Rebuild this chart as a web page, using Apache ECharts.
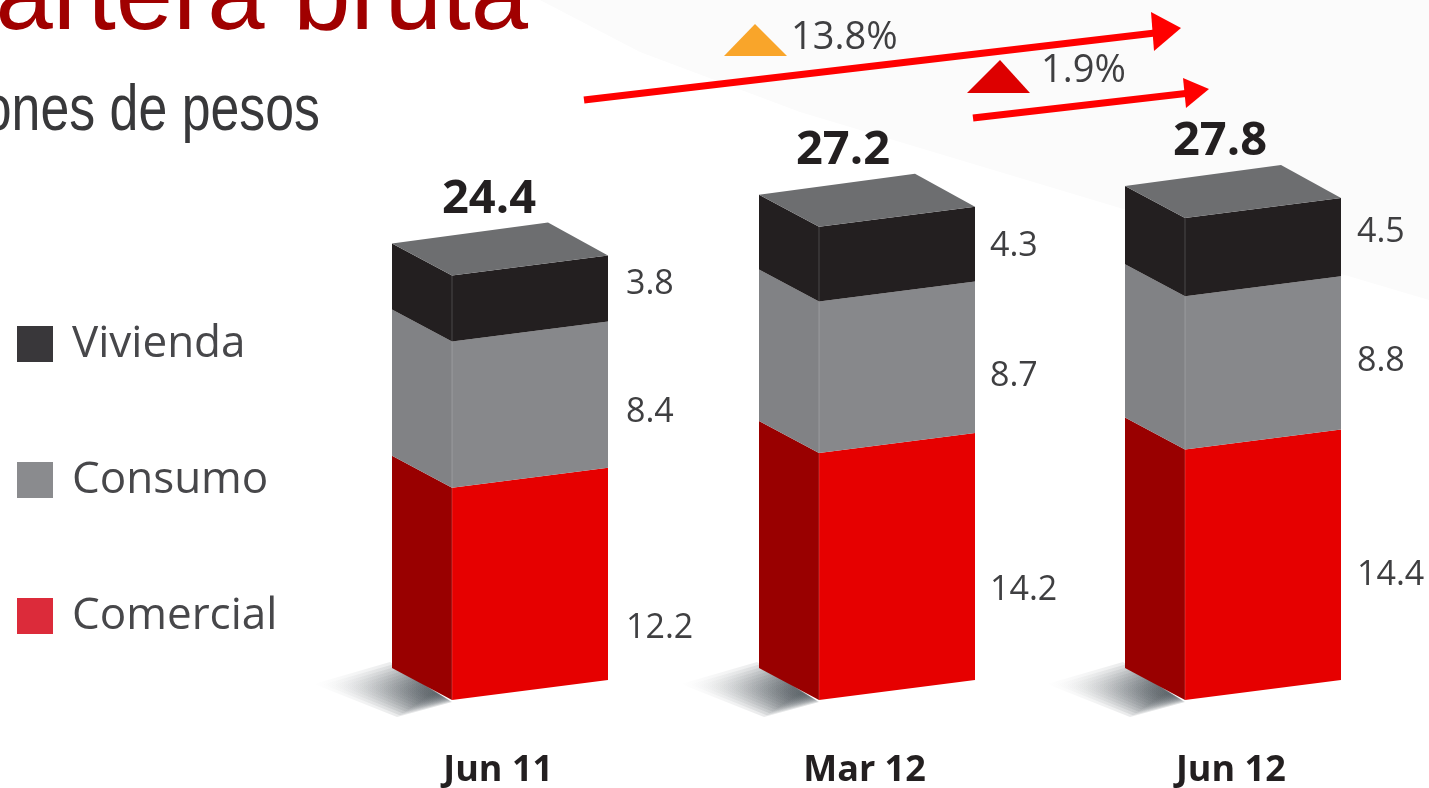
<!DOCTYPE html>
<html>
<head>
<meta charset="utf-8">
<title>Cartera bruta</title>
<style>
  html, body { margin: 0; padding: 0; background: #fff; overflow: hidden; }
  #main { width: 1429px; height: 788px; }
</style>
</head>
<body>
<div id="main"></div>
<script src="https://cdn.jsdelivr.net/npm/echarts@6/dist/echarts.min.js"></script>
<script>
var categories = ['Jun 11', 'Mar 12', 'Jun 12'];
var comercial = [12.2, 14.2, 14.4];
var consumo = [8.4, 8.7, 8.8];
var vivienda = [3.8, 4.3, 4.5];
var totals = [24.4, 27.2, 27.8];

// label nudges (px), the labels in the picture are placed by hand
var viviendaNudge = [-4, 2, -5];
var consumoNudge = [18, 19, 8];
var comercialNudge = [54, 34, 21];
var labelDx = [174, 171, 172];
var totalNudge = [37, 24, 35];

var textFont = '"Open Sans", sans-serif';

// box shape, relative to the front corner of the bar
var frontOffset = -46;
var sideW = 60, sideDy = 32;
var frontW = 156, frontDy = 20;

function segmentRows(base, values) {
  return values.map(function (v, i) {
    return [i, base[i], base[i] + v, v];
  });
}
var base1 = [0, 0, 0];
var base2 = comercial.slice();
var base3 = comercial.map(function (v, i) { return v + consumo[i]; });

// soft ground shadow: nested see-through polygons around the bar's corner
function shadowLayers(x, y0) {
  var outer = [[-62, -38], [0, 2], [-55, 17], [-138, -16]];
  var layers = [];
  for (var k = 0; k < 12; k++) {
    var s = 1 - k * 0.075;
    layers.push({
      type: 'polygon',
      shape: {
        points: outer.map(function (p) {
          return [x - 18 + (p[0] + 18) * s, y0 - 8 + (p[1] + 8) * s];
        })
      },
      style: {
        fill: new echarts.graphic.LinearGradient(1, 0, 0, 0, [
          { offset: 0, color: 'rgba(80,88,94,0.2)' },
          { offset: 1, color: 'rgba(80,88,94,0)' }
        ])
      }
    });
  }
  return layers;
}

// draws one segment of a bar: side face, front face, value label
function makeRenderItem(frontColor, sideColor, nudge, isTop, isBottom) {
  return function (params, api) {
    var i = api.value(0);
    var cx = api.coord([i, 0])[0];
    var x = Math.round(cx + frontOffset);
    var y0 = api.coord([i, api.value(1)])[1];
    var y1 = api.coord([i, api.value(2)])[1];
    var children = isBottom ? shadowLayers(x, y0) : [];

    children.push({
      type: 'polygon',
      shape: { points: [[x - sideW, y0 - sideDy], [x, y0], [x, y1], [x - sideW, y1 - sideDy]] },
      style: { fill: sideColor }
    });
    children.push({
      type: 'polygon',
      shape: { points: [[x, y0], [x + frontW, y0 - frontDy], [x + frontW, y1 - frontDy], [x, y1]] },
      style: { fill: frontColor }
    });
    // thin seam between the two faces
    children.push({
      type: 'line',
      shape: { x1: x, y1: y0, x2: x, y2: y1 },
      style: { stroke: 'rgba(255,255,255,0.18)', lineWidth: 1 }
    });
    // value label
    children.push({
      type: 'text',
      style: {
        text: api.value(3).toFixed(1),
        x: x + labelDx[i],
        y: (y0 + y1) / 2 - frontDy + nudge[i],
        fill: '#3f3f41',
        font: '34px ' + textFont,
        textAlign: 'left',
        textVerticalAlign: 'middle'
      }
    });
    if (isTop) {
      children.push({
        type: 'polygon',
        shape: { points: [[x, y1], [x + frontW, y1 - frontDy], [x + 96, y1 - 53], [x - sideW, y1 - sideDy]] },
        style: { fill: '#6d6e70' }
      });
      children.push({
        type: 'text',
        style: {
          text: totals[i].toFixed(1),
          x: x + totalNudge[i],
          y: y1 - 76,
          fill: '#231f20',
          font: 'bold 47px ' + textFont,
          textAlign: 'center',
          textVerticalAlign: 'middle'
        }
      });
    }
    return { type: 'group', children: children };
  };
}

var chart = echarts.init(document.getElementById('main'));

var option = {
  animation: false,
  backgroundColor: '#ffffff',
  grid: { left: 315, width: 1099, top: 4, height: 696, outerBoundsMode: 'none' },
  xAxis: {
    type: 'category',
    data: categories,
    axisLine: { show: false },
    axisTick: { show: false },
    axisLabel: {
      margin: 53,
      color: '#231f20',
      fontFamily: textFont,
      fontWeight: 'bold',
      fontSize: 36
    }
  },
  yAxis: { type: 'value', min: 0, max: 40, show: false },
  legend: {
    orient: 'vertical',
    left: 12,
    top: 317,
    itemWidth: 36,
    itemHeight: 36,
    itemGap: 92,
    icon: 'rect',
    textStyle: { color: '#47474a', fontSize: 44, fontFamily: textFont, padding: [0, 0, 0, 14] },
    data: [
      { name: 'Vivienda', itemStyle: { color: '#39373a' } },
      { name: 'Consumo', itemStyle: { color: '#8a8b8e' } },
      { name: 'Comercial', itemStyle: { color: '#dc2b3a' } }
    ]
  },
  // fondo, titulo, flechas
  graphic: [
    {
      type: 'polygon', z: -1, silent: true,
      shape: { points: [[540, 0], [640, 52], [800, 112], [1000, 172], [1200, 232], [1429, 300], [1429, 0]] },
      style: { fill: '#fbfbfb' }
    },
    {
      type: 'text', x: 528, y: 1,
      style: { text: 'Cartera bruta', fill: '#a00000', font: '103px "Liberation Sans", Arial, sans-serif', textAlign: 'right', textVerticalAlign: 'middle' }
    },
    {
      type: 'text', x: 320, y: 112, scaleX: 0.81,
      style: { text: 'Millones de pesos', fill: '#38383a', font: '64px "Liberation Sans", sans-serif', textAlign: 'right', textVerticalAlign: 'middle' }
    },
    {
      type: 'line',
      shape: { x1: 584, y1: 100, x2: 1155, y2: 33 },
      style: { stroke: '#ff0000', lineWidth: 7 }
    },
    {
      type: 'polygon',
      shape: { points: [[1181, 28], [1151, 12], [1154, 51]] },
      style: { fill: '#ff0000' }
    },
    {
      type: 'line',
      shape: { x1: 973, y1: 118, x2: 1190, y2: 93 },
      style: { stroke: '#ff0000', lineWidth: 7 }
    },
    {
      type: 'polygon',
      shape: { points: [[1209, 89], [1183, 78], [1186, 108]] },
      style: { fill: '#ff0000' }
    },
    {
      type: 'polygon',
      shape: { points: [[724, 56], [755, 24], [787, 56]] },
      style: { fill: '#f9a52a' }
    },
    {
      type: 'polygon',
      shape: { points: [[967, 93], [1000, 60], [1030, 93]] },
      style: { fill: '#dd0000' }
    },
    {
      type: 'text', x: 791, y: 38,
      style: { text: '13.8%', fill: '#3f3f41', font: '38px ' + textFont, textAlign: 'left', textVerticalAlign: 'middle' }
    },
    {
      type: 'text', x: 1041, y: 71,
      style: { text: '1.9%', fill: '#3f3f41', font: '38px ' + textFont, textAlign: 'left', textVerticalAlign: 'middle' }
    }
  ],
  series: [
    {
      name: 'Comercial',
      type: 'custom',
      renderItem: makeRenderItem('#e60000', '#990000', comercialNudge, false, true),
      encode: { x: 0, y: [1, 2] },
      itemStyle: { color: '#dc2b3a' },
      data: segmentRows(base1, comercial)
    },
    {
      name: 'Consumo',
      type: 'custom',
      renderItem: makeRenderItem('#87888b', '#818285', consumoNudge, false, false),
      encode: { x: 0, y: [1, 2] },
      itemStyle: { color: '#8a8b8e' },
      data: segmentRows(base2, consumo)
    },
    {
      name: 'Vivienda',
      type: 'custom',
      renderItem: makeRenderItem('#231f20', '#231f20', viviendaNudge, true, false),
      encode: { x: 0, y: [1, 2] },
      itemStyle: { color: '#39373a' },
      data: segmentRows(base3, vivienda)
    }
  ]
};

chart.setOption(option);
</script>
</body>
</html>
